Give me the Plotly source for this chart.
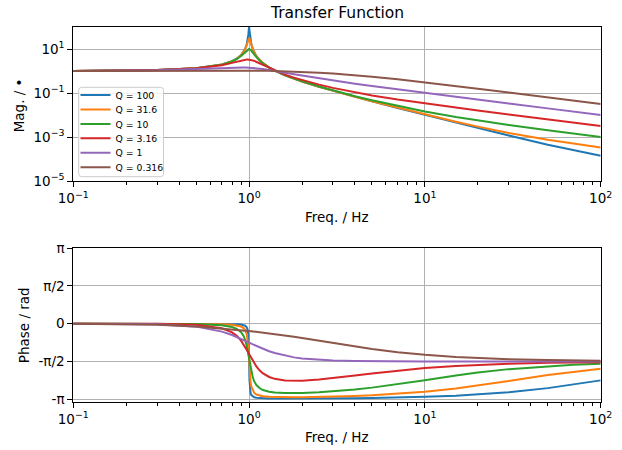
import plotly.graph_objects as go

# ---------------- data ----------------
FREQ = [0.1, 0.2, 0.3, 0.5, 0.7, 0.8, 0.85, 0.9, 0.93, 0.95, 0.97, 0.98, 0.99, 0.995,
        1.0, 1.005, 1.01, 1.02, 1.03, 1.05, 1.07, 1.1, 1.15, 1.2, 1.3, 1.4, 1.6, 1.8,
        2, 2.5, 3, 4, 5, 7, 10, 15, 20, 30, 50, 70, 100]

LABELS = ["Q = 100", "Q = 31.6", "Q = 10", "Q = 3.16", "Q = 1", "Q = 0.316"]

MAG_Q100 = [1.010, 1.042, 1.099, 1.333, 1.961, 2.778, 3.604, 5.257, 7.384, 10.21, 16.70, 24.51,
            44.99, 70.98, 100.0, 70.45, 44.46, 24.00, 16.19, 9.705, 6.883, 4.755, 3.099, 2.272,
            1.449, 1.042, 0.641, 0.4464, 0.3334, 0.1905, 0.1251, 0.06672, 0.04172, 0.02088,
            0.01015, 0.004514, 0.002556, 0.001161, 4.474e-4, 2.492e-4, 1.414e-4]
MAG_Q31 = [1.010, 1.042, 1.099, 1.333, 1.959, 2.772, 3.588, 5.207, 7.236, 9.806, 15.03, 19.90,
           26.97, 30.31, 31.64, 30.02, 26.51, 19.36, 14.49, 9.287, 6.724, 4.701, 3.083, 2.266,
           1.448, 1.042, 0.6415, 0.4470, 0.3339, 0.1911, 0.1256, 0.06720, 0.04218, 0.02134,
           0.01059, 0.004941, 0.002965, 0.001533, 7.486e-4, 4.958e-4, 3.317e-4]
MAG_Q10 = [1.005, 1.042, 1.099, 1.332, 1.947, 2.720, 3.458, 4.776, 6.123, 7.379, 8.845, 9.506,
           9.951, 10.05, 10.05, 9.951, 9.760, 9.162, 8.401, 6.852, 5.583, 4.244, 2.940, 2.208,
           1.436, 1.041, 0.6458, 0.4521, 0.3392, 0.1961, 0.1304, 0.07178, 0.04657, 0.02543,
           0.01428, 0.008048, 0.005604, 0.003518, 0.002040, 0.001443, 0.001005]
MAG_Q3 = [1.005, 1.042, 1.098, 1.321, 1.842, 2.344, 2.680, 3.038, 3.221, 3.306, 3.348, 3.351,
          3.340, 3.330, 3.317, 3.300, 3.280, 3.233, 3.174, 3.032, 2.868, 2.606, 2.189, 1.841,
          1.346, 1.035, 0.6834, 0.4979, 0.3859, 0.2401, 0.1711, 0.1071, 0.07778, 0.05055,
          0.03348, 0.02164, 0.01605, 0.01061, 0.006340, 0.004523, 0.003164]
MAG_Q1 = [1.010, 1.040, 1.090, 1.240, 1.409, 1.460, 1.468, 1.463, 1.453, 1.444, 1.434, 1.428,
          1.421, 1.418, 1.414, 1.411, 1.407, 1.399, 1.391, 1.374, 1.356, 1.328, 1.276, 1.222,
          1.114, 1.014, 0.8443, 0.7166, 0.6202, 0.4631, 0.3701, 0.2656, 0.2080, 0.1458,
          0.1010, 0.06696, 0.05013, 0.03337, 0.02001, 0.01429, 0.01000]
MAG_Q03 = [1.009, 1.029, 1.049, 1.069, 1.069, 1.065, 1.061, 1.058, 1.055, 1.053, 1.052, 1.051,
           1.050, 1.049, 1.049, 1.048, 1.048, 1.047, 1.046, 1.044, 1.042, 1.039, 1.033, 1.027,
           1.015, 1.002, 0.9741, 0.9448, 0.9147, 0.8397, 0.7687, 0.6467, 0.5513, 0.4192,
           0.3044, 0.2072, 0.1566, 0.1050, 0.06315, 0.04514, 0.03161]

PH_Q100 = [0.0, -0.0001, -0.0003, -0.0017, -0.0067, -0.0142, -0.0221, -0.0383, -0.0594, -0.0876,
           -0.153, -0.233, -0.452, -0.774, -1.561, -2.345, -2.666, -2.884, -2.964, -3.029,
           -3.057, -3.078, -3.094, -3.102, -3.110, -3.113, -3.115, -3.116, -3.115, -3.112,
           -3.108, -3.099, -3.090, -3.070, -3.041, -2.992, -2.944, -2.850, -2.678, -2.531, -2.356]
PH_Q31 = [0.0, -0.0003, -0.0009, -0.0053, -0.0212, -0.0449, -0.0697, -0.1202, -0.1849, -0.2689,
          -0.4481, -0.6331, -0.9733, -1.232, -1.539, -1.845, -2.101, -2.436, -2.618, -2.795,
          -2.878, -2.943, -2.993, -3.018, -3.041, -3.051, -3.059, -3.059, -3.057, -3.048,
          -3.035, -3.007, -2.978, -2.919, -2.832, -2.697, -2.576, -2.382, -2.134, -1.995, -1.877]
PH_Q10 = [-0.0001, -0.0008, -0.0030, -0.0166, -0.0665, -0.1388, -0.2124, -0.3526, -0.5101, -0.6777,
          -0.9269, -1.089, -1.274, -1.372, -1.471, -1.570, -1.667, -1.846, -2.002, -2.240,
          -2.399, -2.550, -2.685, -2.756, -2.826, -2.858, -2.881, -2.883, -2.878, -2.849,
          -2.813, -2.734, -2.657, -2.516, -2.346, -2.152, -2.029, -1.889, -1.766, -1.711, -1.670]
PH_Q3 = [-0.0003, -0.0026, -0.0093, -0.0510, -0.1917, -0.3648, -0.5069, -0.7049, -0.8542, -0.9651,
         -1.083, -1.143, -1.204, -1.234, -1.265, -1.295, -1.325, -1.383, -1.441, -1.550,
         -1.649, -1.779, -1.948, -2.067, -2.214, -2.293, -2.360, -2.375, -2.370, -2.323,
         -2.265, -2.156, -2.069, -1.949, -1.845, -1.757, -1.712, -1.665, -1.628, -1.611, -1.599]
PH_Q1 = [-0.0010, -0.0080, -0.0270, -0.1244, -0.3304, -0.4732, -0.5508, -0.6299, -0.6774, -0.7088,
         -0.7398, -0.7551, -0.7703, -0.7779, -0.7854, -0.7929, -0.8003, -0.8151, -0.8297, -0.8583,
         -0.8862, -0.9265, -0.9892, -1.046, -1.144, -1.221, -1.331, -1.401, -1.446, -1.507,
         -1.534, -1.555, -1.563, -1.568, -1.570, -1.5705, -1.5707, -1.5708, -1.5708, -1.5708, -1.5708]
PH_Q03 = [-0.0029, -0.0186, -0.0471, -0.1211, -0.1979, -0.2351, -0.2533, -0.2712, -0.2819, -0.2889,
          -0.2959, -0.2994, -0.3028, -0.3046, -0.3063, -0.3080, -0.3097, -0.3132, -0.3166, -0.3234,
          -0.3302, -0.3402, -0.3568, -0.3731, -0.4049, -0.4357, -0.4942, -0.5488, -0.5997, -0.7120,
          -0.8056, -0.9491, -1.0514, -1.1839, -1.2932, -1.3832, -1.4294, -1.4762, -1.5139, -1.5302, -1.5423]

MAGS = [MAG_Q100, MAG_Q31, MAG_Q10, MAG_Q3, MAG_Q1, MAG_Q03]
PHASES = [PH_Q100, PH_Q31, PH_Q10, PH_Q3, PH_Q1, PH_Q03]

X_TICKS = [0.1, 1, 10, 100]
X_TICKTEXT = ["10<sup>\u22121</sup>", "10<sup>0</sup>", "10<sup>1</sup>", "10<sup>2</sup>"]
X_MINOR = [0.2, 0.3, 0.4, 0.5, 0.6, 0.7, 0.8, 0.9, 2, 3, 4, 5, 6, 7, 8, 9,
           20, 30, 40, 50, 60, 70, 80, 90]
MAG_TICKS = [1e-5, 1e-3, 1e-1, 1e1]
MAG_TICKTEXT = ["10<sup>\u22125</sup>", "10<sup>\u22123</sup>", "10<sup>\u22121</sup>", "10<sup>1</sup>"]
PI = 3.141592653589793
PH_TICKS = [-PI, -PI / 2, 0, PI / 2, PI]
PH_TICKTEXT = ["-\u03c0", "-\u03c0/2", "0", "\u03c0/2", "\u03c0"]

COLORS = ["#1f77b4", "#ff7f0e", "#2ca02c", "#d62728", "#9467bd", "#8c564b"]

# ---------------- layout helpers ----------------
W, H = 622, 450
FONT = "DejaVu Sans"


def fx(p):
    return p / W


def fy(p):
    return 1 - p / H


LEFT, RIGHT = 73.3, 600.7
TOP1, BOT1 = 27.0, 181.0
TOP2, BOT2 = 248.0, 401.7

# legend frame (pixels) and entry centres
LEG_L, LEG_T, LEG_R, LEG_B = 78.7, 87.3, 163.5, 176.7
LEG_Y0, LEG_DY = 95.0, 14.45
LEG_X = 75.5


def rounded_rect_path(l, t, r, b, rad=3.0):
    L, R, T, B = fx(l), fx(r), fy(t), fy(b)
    dx, dy = rad / W, rad / H
    return ("M {a},{T} L {c},{T} Q {R},{T} {R},{e} L {R},{f} Q {R},{B} {c},{B} "
            "L {a},{B} Q {L},{B} {L},{f} L {L},{e} Q {L},{T} {a},{T} Z").format(
        a=L + dx, c=R - dx, e=T - dy, f=B + dy, L=L, R=R, T=T, B=B)


fig = go.Figure()
legend_cfg = {}
for i, lab in enumerate(LABELS):
    lname = "legend" if i == 0 else "legend%d" % (i + 1)
    fig.add_trace(go.Scatter(x=FREQ, y=MAGS[i], mode="lines", name=lab,
                             line=dict(color=COLORS[i], width=2),
                             xaxis="x", yaxis="y", legend=lname))
    legend_cfg[lname] = dict(x=fx(LEG_X), y=fy(LEG_Y0 + i * LEG_DY),
                             xanchor="left", yanchor="middle",
                             bgcolor="rgba(0,0,0,0)", borderwidth=0,
                             font=dict(family=FONT, size=9.3, color="black"),
                             itemwidth=30, tracegroupgap=0)
for i, lab in enumerate(LABELS):
    fig.add_trace(go.Scatter(x=FREQ, y=PHASES[i], mode="lines", name=lab,
                             line=dict(color=COLORS[i], width=2), showlegend=False,
                             xaxis="x2", yaxis="y2"))

common = dict(showline=True, mirror=True, linecolor="black", linewidth=1,
              ticks="outside", ticklen=5, tickwidth=1, tickcolor="black",
              showgrid=True, gridcolor="#b0b0b0", gridwidth=1, zeroline=False,
              automargin=False,
              tickfont=dict(family=FONT, size=13.5, color="black"))

xcommon = dict(common, type="log", range=[-1, 2], domain=[fx(LEFT), fx(RIGHT)],
               tickmode="array", tickvals=X_TICKS, ticktext=X_TICKTEXT,
               minor=dict(tickmode="array", tickvals=X_MINOR, ticks="outside", ticklen=3,
                          tickwidth=0.8, tickcolor="black", showgrid=False))

fig.update_layout(
    width=W, height=H,
    margin=dict(l=0, r=0, t=0, b=0, autoexpand=False),
    paper_bgcolor="white", plot_bgcolor="white",
    font=dict(family=FONT, color="black"),
    showlegend=True,
    xaxis=dict(xcommon, anchor="y"),
    yaxis=dict(common, type="log", range=[-5, 2], domain=[fy(BOT1), fy(TOP1)], anchor="x",
               tickmode="array", tickvals=MAG_TICKS, ticktext=MAG_TICKTEXT),
    xaxis2=dict(xcommon, anchor="y2"),
    yaxis2=dict(common, range=[-PI - 0.1, PI], domain=[fy(BOT2), fy(TOP2)], anchor="x2",
                tickmode="array", tickvals=PH_TICKS, ticktext=PH_TICKTEXT),
    shapes=[dict(type="path", xref="paper", yref="paper",
                 path=rounded_rect_path(LEG_L, LEG_T, LEG_R, LEG_B),
                 fillcolor="rgba(255,255,255,0.8)", line=dict(color="#cccccc", width=1),
                 layer="above")],
    annotations=[
        dict(text="Transfer Function", x=fx(337.3), y=fy(12.7), xref="paper", yref="paper",
             xanchor="center", yanchor="middle", showarrow=False,
             font=dict(family=FONT, size=15.5, color="black")),
        dict(text="Freq. / Hz", x=fx(337.0), y=fy(216.7), xref="paper", yref="paper",
             xanchor="center", yanchor="middle", showarrow=False,
             font=dict(family=FONT, size=13.5, color="black")),
        dict(text="Freq. / Hz", x=fx(337.0), y=fy(436.7), xref="paper", yref="paper",
             xanchor="center", yanchor="middle", showarrow=False,
             font=dict(family=FONT, size=13.5, color="black")),
        dict(text="Mag. / \u2022", x=fx(19.3), y=fy(105.0), xref="paper", yref="paper",
             xanchor="center", yanchor="middle", showarrow=False, textangle=-90,
             font=dict(family=FONT, size=13.5, color="black")),
        dict(text="Phase / rad", x=fx(24.2), y=fy(325.0), xref="paper", yref="paper",
             xanchor="center", yanchor="middle", showarrow=False, textangle=-90,
             font=dict(family=FONT, size=13.5, color="black")),
    ],
    **legend_cfg,
)

fig.write_html("out.html")
